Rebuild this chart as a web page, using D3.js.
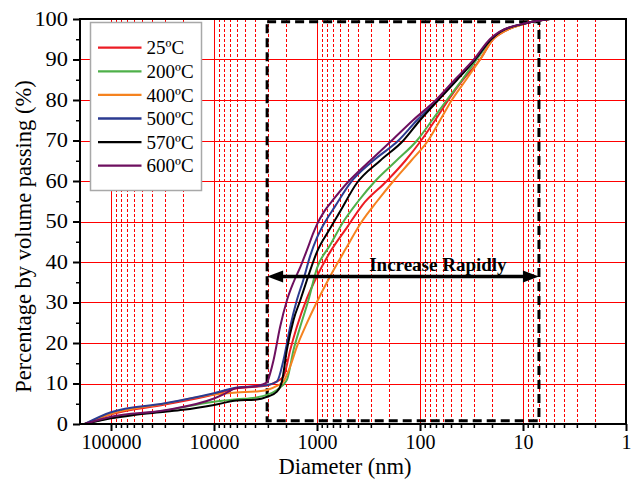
<!DOCTYPE html>
<html><head><meta charset="utf-8">
<script src="https://cdn.jsdelivr.net/npm/d3@7"></script>
<style>body{margin:0;background:#fff}</style>
</head><body>
<svg id="chart" width="633" height="482"></svg>
<script>
// ---- data ----
const seriesNames = ["25ºC", "200ºC", "400ºC", "500ºC", "570ºC", "600ºC"];
const seriesColors = ["#ec1c24", "#4fb04a", "#f5821f", "#2b3b91", "#000000", "#6e0f5f"];
// [diameter (nm), percentage passing]
const s25 = [[180000,0],[100000,2.4],[30000,4.8],[10000,7.3],[6000,8.8],[4000,9.2],[3050,9.5],[2550,10.3],[2115,11.7],[1820,18.3],[1568,24],[1254,31],[1000,36.5],[745,42.5],[513,48.5],[364,54],[210,60],[139,65],[97.5,70],[71.3,75],[53,80],[38.2,85],[26.1,90],[19.5,95],[16.3,96.5],[9.2,99],[5.5,100]];
const s200 = [[180000,0],[100000,1.55],[30000,3.3],[10000,5.5],[6000,6.1],[4000,6.5],[3050,7.2],[2450,8.4],[1960,10.9],[1690,18.3],[1456,24],[1210,30.6],[1000,38.5],[745,44.2],[553,50],[398,55],[272,60],[170,65],[107,70],[76.3,75],[54.9,80],[39,85],[28.1,90],[20,95],[16.7,96.5],[9.2,99],[5.5,100]];
const s400 = [[180000,0],[100000,2.5],[30000,5.0],[10000,7.3],[6000,7.8],[4000,8.0],[3050,8.4],[2450,9.4],[2115,10.5],[1820,14.2],[1568,19.1],[1254,24.9],[1000,30.2],[745,36.5],[533,43],[367,50],[261,55],[181,60],[122,65],[83.4,70],[63.8,75],[49.1,80],[35.7,85],[26.1,90],[19.5,95],[16.3,96.5],[9.2,99],[5.5,100]];
const s500 = [[180000,0],[100000,2.9],[30000,5.1],[10000,7.6],[6000,9.0],[4000,9.3],[3050,9.6],[2450,10.5],[2115,15.8],[1820,24],[1568,30.6],[1353,35.7],[1165,41.5],[1000,46],[865,49.2],[666,53.8],[476,59.5],[285,65],[162,70],[107,75],[67.5,80],[44.6,85],[29.2,90],[20.4,95],[16.7,96.8],[9.2,99],[5.5,100]];
const s570 = [[180000,0],[100000,1.4],[60000,2.2],[30000,3.0],[20000,3.5],[10000,4.7],[6000,5.8],[4000,6.0],[3050,6.7],[2450,8],[2190,10.5],[1960,18.3],[1690,25.7],[1456,30.5],[1254,35.5],[1000,42.5],[757,48],[596,52.5],[410,59.5],[244,65],[145,70],[100,75],[66.3,80],[43.6,85],[29.2,90],[20.4,95],[16.7,96.8],[9.2,99],[5.5,100]];
const s600 = [[180000,0],[100000,1.8],[30000,3.4],[10000,6.3],[7800,7.5],[6200,8.8],[4000,9.3],[3050,10.3],[2850,12.5],[2640,15.8],[2280,24],[1960,30.5],[1690,35],[1450,38.8],[1250,43],[1080,47.3],[1000,49.3],[850,52.5],[690,55.5],[510,59.5],[400,62.2],[305,65],[188,70],[117,75],[70,80],[46,85],[30,90],[21,95],[17,96.8],[9.2,99],[5.5,100]];
const seriesData = [s25, s200, s400, s500, s570, s600];

const xMajorTicks = [100000, 10000, 1000, 100, 10, 1];
const xTickLabels = ["100000", "10000", "1000", "100", "10", "1"];
const yMajorTicks = [0,10,20,30,40,50,60,70,80,90,100];
const yMinorTicks = [5,15,25,35,45,55,65,75,85,95];
const boxDiam = [3050, 7];
const boxPct = [0.8, 99.3];
const arrowPct = 36.4;
const arrowLabel = "Increase Rapidly";
const arrowLabelDiam = 67;

// ---- layout ----
const svg = d3.select("#chart");
const L = 80, R = 626, T = 19, B = 424;
const font = "'Liberation Serif','Times New Roman',serif";
const x = d3.scaleLog().domain([200000, 1]).range([L, R]);
const y = d3.scaleLinear().domain([0, 100]).range([B, T]);
const px = v => Math.round(v) + 0.5;

svg.append("rect").attr("width", 633).attr("height", 482).attr("fill", "#fff");

const minorX = [];
for (let k = 0; k <= 5; k++) for (let m = 2; m <= 9; m++) {
  const v = m * Math.pow(10, k);
  if (v < 200000) minorX.push(v);
}

// grid
const grid = svg.append("g").attr("shape-rendering", "crispEdges");
grid.selectAll(".vmin").data(minorX).join("line")
  .attr("x1", d => px(x(d))).attr("x2", d => px(x(d))).attr("y1", T).attr("y2", B)
  .attr("stroke", "#ff0000").attr("stroke-width", 1).attr("stroke-dasharray", "3,2");
grid.selectAll(".vmaj").data(xMajorTicks.filter(d => d > 1)).join("line")
  .attr("x1", d => px(x(d))).attr("x2", d => px(x(d))).attr("y1", T).attr("y2", B)
  .attr("stroke", "#ff0000").attr("stroke-width", 1);
grid.selectAll(".hmaj").data(yMajorTicks.filter(d => d > 0 && d < 100)).join("line")
  .attr("x1", L).attr("x2", R).attr("y1", d => px(y(d))).attr("y2", d => px(y(d)))
  .attr("stroke", "#ff0000").attr("stroke-width", 1);

// dashed box
svg.append("rect")
  .attr("x", x(boxDiam[0])).attr("y", y(boxPct[1]))
  .attr("width", x(boxDiam[1]) - x(boxDiam[0]))
  .attr("height", y(boxPct[0]) - y(boxPct[1]))
  .attr("fill", "none").attr("stroke", "#000").attr("stroke-width", 3)
  .attr("stroke-dasharray", "9,5");

// curves
const line = d3.line().x(d => x(d[0])).y(d => y(d[1])).curve(d3.curveMonotoneX);
svg.append("g").selectAll("path").data(seriesData).join("path")
  .attr("d", line).attr("fill", "none")
  .attr("stroke", (d, i) => seriesColors[i]).attr("stroke-width", 2);

// arrow
const ay = y(arrowPct), ax1 = x(boxDiam[0]), ax2 = x(boxDiam[1]);
const ah = 16, aw = 6;
svg.append("line").attr("x1", ax1 + ah - 2).attr("x2", ax2 - ah + 2)
  .attr("y1", ay).attr("y2", ay).attr("stroke", "#000").attr("stroke-width", 3.5);
svg.append("path").attr("d", `M${ax1},${ay}L${ax1 + ah},${ay - aw}L${ax1 + ah},${ay + aw}Z`).attr("fill", "#000");
svg.append("path").attr("d", `M${ax2},${ay}L${ax2 - ah},${ay - aw}L${ax2 - ah},${ay + aw}Z`).attr("fill", "#000");
svg.append("text").attr("x", x(arrowLabelDiam)).attr("y", ay - 6)
  .attr("text-anchor", "middle").attr("font-family", font).attr("font-weight", "bold")
  .attr("font-size", 19).text(arrowLabel);

// axes
const xAxis = d3.axisBottom(x).tickValues(xMajorTicks).tickSize(7).tickPadding(4)
  .tickFormat((d, i) => xTickLabels[i]);
const gx = svg.append("g").attr("transform", `translate(0,${B})`).call(xAxis);
gx.select(".domain").remove();
gx.selectAll("line").attr("stroke", "#000").attr("stroke-width", 2);
gx.selectAll("text").attr("font-family", font).attr("font-size", 20).attr("fill", "#000");
const gxm = svg.append("g").attr("transform", `translate(0,${B})`)
  .call(d3.axisBottom(x).tickValues(minorX.filter(d => d < 200000)).tickSize(4).tickFormat(""));
gxm.select(".domain").remove();
gxm.selectAll("line").attr("stroke", "#000").attr("stroke-width", 1.5);

const gy = svg.append("g").attr("transform", `translate(${L},0)`)
  .call(d3.axisLeft(y).tickValues(yMajorTicks).tickSize(7).tickPadding(5));
gy.select(".domain").remove();
gy.selectAll("line").attr("stroke", "#000").attr("stroke-width", 2);
const sx = 1.12;
gy.selectAll("text").attr("font-family", font).attr("font-size", 20).attr("fill", "#000")
  .attr("transform", `translate(${-12 + 12 * sx},0) scale(${sx},1)`);
const gym = svg.append("g").attr("transform", `translate(${L},0)`)
  .call(d3.axisLeft(y).tickValues(yMinorTicks).tickSize(4).tickFormat(""));
gym.select(".domain").remove();
gym.selectAll("line").attr("stroke", "#000").attr("stroke-width", 1.5);

// frame
svg.append("rect").attr("x", L).attr("y", T).attr("width", R - L).attr("height", B - T)
  .attr("fill", "none").attr("stroke", "#000").attr("stroke-width", 2);

// titles
svg.append("text").attr("x", 345).attr("y", 474).attr("text-anchor", "middle")
  .attr("font-family", font).attr("font-size", 22.5).text("Diameter (nm)");
svg.append("text").attr("transform", "translate(31,236.5) rotate(-90)").attr("text-anchor", "middle")
  .attr("font-family", font).attr("font-size", 22.5).text("Percentage by volume passing (%)");

// legend
const lg = svg.append("g");
lg.append("rect").attr("x", 90.5).attr("y", 22.5).attr("width", 111).attr("height", 168)
  .attr("fill", "#fff").attr("stroke", "#a8a8a8").attr("stroke-width", 1.5);
const rows = lg.selectAll("g.row").data(seriesNames).join("g")
  .attr("transform", (d, i) => `translate(0,${47.7 + i * 23.6})`);
rows.append("line").attr("x1", 98).attr("x2", 141.5).attr("y1", 0).attr("y2", 0)
  .attr("stroke", (d, i) => seriesColors[i]).attr("stroke-width", 2.3);
rows.append("text").attr("x", 146.5).attr("y", 6.6).attr("font-family", font)
  .attr("font-size", 19).text(d => d);
</script>
</body></html>
